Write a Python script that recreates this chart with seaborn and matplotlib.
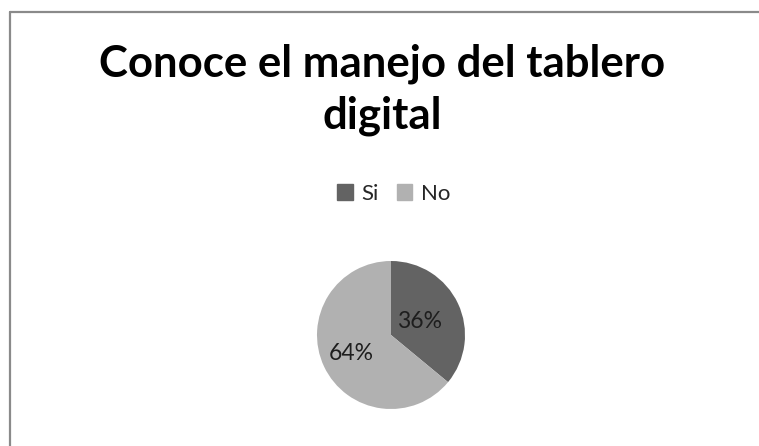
import numpy as np
import matplotlib
matplotlib.use("Agg")
import matplotlib.pyplot as plt
import seaborn as sns
from matplotlib.lines import Line2D
from matplotlib.patches import Rectangle

# Survey answers
categories = ["Si", "No"]
shares = [36, 64]
title_lines = ["Conoce el manejo del tablero", "digital"]

sns.set_theme(style="white")
plt.rcParams["font.family"] = ["Lato", "DejaVu Sans"]
colors = sns.color_palette(["#636363", "#b1b1b1"])

W, H = 759, 446
fig = plt.figure(figsize=(W / 100, H / 100), dpi=100)
fig.patch.set_facecolor("white")

# Chart-area frame (left and top edges visible)
fx, fy = 9.5 / W, 1 - 11.5 / H
fig.add_artist(Line2D([fx, fx], [0, fy], transform=fig.transFigure,
                      color="#8a8a8a", lw=1.6))
fig.add_artist(Line2D([fx, 1], [fy, fy], transform=fig.transFigure,
                      color="#8a8a8a", lw=1.6))

# Two-line bold title, each line placed on its own baseline
for line, base in zip(title_lines, [77, 128]):
    fig.text(382 / W, 1 - base / H, line, ha="center", va="baseline",
             fontsize=31.5, fontweight="bold", color="black")

cx, cy, r = 391, 335, 74
ax = fig.add_axes([(cx - r) / W, (H - cy - r) / H, 2 * r / W, 2 * r / H])
wedges, _ = ax.pie(shares, colors=colors, startangle=90, counterclock=False,
                   radius=1.0, wedgeprops=dict(linewidth=0))
ax.set_xlim(-1, 1)
ax.set_ylim(-1, 1)
ax.set_aspect("equal")
ax.axis("off")

label_dist = [0.43, 0.6]
for w, v, d in zip(wedges, shares, label_dist):
    ang = np.deg2rad((w.theta1 + w.theta2) / 2)
    ax.text(d * np.cos(ang), d * np.sin(ang), f"{v}%", ha="center",
            va="center", fontsize=16.5, color="#1e1e1e")

handles = [Rectangle((0, 0), 1, 1, color=c) for c in colors]
fig.legend(handles, categories, loc="center", bbox_to_anchor=(394 / W, 1 - 194 / H),
           ncol=2, frameon=False, fontsize=16, handlelength=0.7,
           handleheight=0.7, handletextpad=0.4, columnspacing=0.8)

fig.savefig("out.png", dpi=100, facecolor="white")
